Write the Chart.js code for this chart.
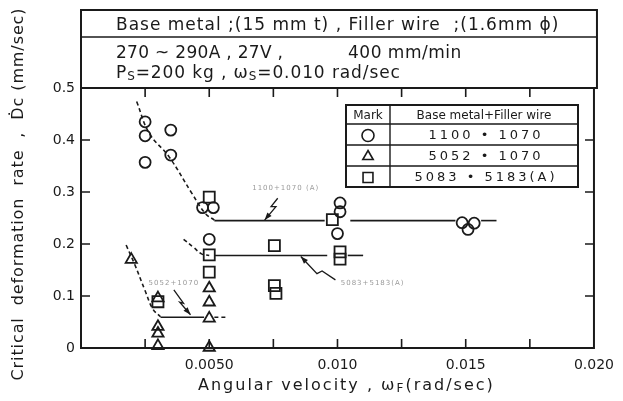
<!DOCTYPE html>
<html>
<head>
<meta charset="utf-8">
<script src="https://cdn.jsdelivr.net/npm/chart.js@4.4.1/dist/chart.umd.min.js"></script>
<style>
  html, body { margin: 0; padding: 0; background: #fff; }
  #chart { display: block; }
</style>
</head>
<body>
<canvas id="chart" width="623" height="401"></canvas>
<script>
const seriesNames = ['1100 \u2022 1070', '5052 \u2022 1070', '5083 \u2022 5183(A)'];
const seriesStyles = ['circle', 'triangle', 'rect'];

const circleX = [0.0025, 0.0025, 0.0025, 0.0035, 0.0035, 0.00474, 0.00516, 0.0050, 0.0101, 0.0101, 0.0100, 0.01486, 0.01509, 0.01533];
const circleY = [0.435, 0.408, 0.357, 0.419, 0.371, 0.270, 0.270, 0.209, 0.279, 0.262, 0.220, 0.241, 0.228, 0.240];

const triangleX = [0.00196, 0.0030, 0.0030, 0.0030, 0.0030, 0.0050, 0.0050, 0.0050, 0.0050];
const triangleY = [0.170, 0.096, 0.041, 0.028, 0.004, 0.115, 0.088, 0.057, 0.001];

const squareX = [0.0050, 0.0050, 0.0050, 0.0030, 0.00754, 0.00754, 0.0076, 0.0098, 0.0101, 0.0101];
const squareY = [0.290, 0.179, 0.146, 0.089, 0.197, 0.120, 0.105, 0.247, 0.185, 0.171];

// hand drawn trend lines
const circleCurveX = [0.00217, 0.00266, 0.00343, 0.00433, 0.00484, 0.0052];
const circleCurveY = [0.474, 0.413, 0.368, 0.297, 0.259, 0.246];
const circleFlatX = [[0.0052, 0.0095], [0.0105, 0.0146], [0.0156, 0.0162]];
const circleFlatY = 0.245;

const squareCurveX = [0.0040, 0.0044, 0.0047, 0.0050];
const squareCurveY = [0.209, 0.193, 0.181, 0.178];
const squareFlatX = [[0.0052, 0.0096], [0.0104, 0.0110]];
const squareFlatY = 0.178;

const triangleCurveX = [0.00176, 0.0021, 0.0025, 0.0028, 0.0031];
const triangleCurveY = [0.198, 0.160, 0.110, 0.075, 0.060];
const triangleFlatX = [0.0031, 0.0048];
const triangleTailX = [0.0052, 0.0057];
const triangleFlatY = 0.059;

// small callouts
const noteTexts = ['1100+1070 (A)', '5083+5183(A)', '5052+1070'];
const noteX = [0.00798, 0.01137, 0.00362];
const noteY = [0.308, 0.125, 0.125];
const arrowX = [[0.00767, 0.00741, 0.00760, 0.00716], [0.00992, 0.0094, 0.0092, 0.00857], [0.00362, 0.0040, 0.00385, 0.00427]];
const arrowY = [[0.288, 0.272, 0.272, 0.246], [0.131, 0.148, 0.143, 0.176], [0.112, 0.086, 0.088, 0.064]];

const xTickValues = [0.005, 0.010, 0.015, 0.020];
const xTickLabels = ['0.0050', '0.010', '0.015', '0.020'];
const yTickValues = [0, 0.1, 0.2, 0.3, 0.4, 0.5];
const yTickLabels = ['0', '0.1', '0.2', '0.3', '0.4', '0.5'];

const headerLine1 = 'Base metal ;(15 mm t) , Filler wire  ;(1.6mm \u03d5)';
const headerLine2a = '270 ~ 290A , 27V ,';
const headerLine2b = '400 mm/min';
const headerLine3 = [['P'], ['S', 1], ['=200 kg , \u03c9'], ['S', 1], ['=0.010 rad/sec']];
const xTitle = [['Angular velocity , \u03c9'], ['F', 1], ['(rad/sec)']];
const yTitle = 'Critical  deformation  rate  ,  \u1e0ac (mm/sec)';
const legendHead = ['Mark', 'Base metal+Filler wire'];

const FONT = '"DejaVu Sans", sans-serif';
const INK = '#1a1a1a';

const pts = (xs, ys) => xs.map((x, i) => ({ x: x, y: ys[i] }));
const flat = (xs, y) => xs.map(x => ({ x: x, y: y }));

function lineSet(data, dashed, tension) {
    return {
        type: 'line', data: data, showLine: true, pointRadius: 0,
        borderColor: INK, borderWidth: 1.6, borderDash: dashed ? [4, 3] : [],
        tension: tension || 0, order: 2, clip: false
    };
}

function markSet(label, data, style, r) {
    return {
        label: label, data: data, pointStyle: style, pointRadius: r,
        borderColor: INK, backgroundColor: 'rgba(0,0,0,0)', borderWidth: 1.8,
        order: 1, clip: false
    };
}

const datasets = [
    markSet(seriesNames[0], pts(circleX, circleY), 'circle', 5.5),
    markSet(seriesNames[1], pts(triangleX, triangleY), 'triangle', 6.5),
    markSet(seriesNames[2], pts(squareX, squareY), 'rect', 7.8),
    lineSet(pts(circleCurveX, circleCurveY), true, 0.4),
    lineSet(pts(squareCurveX, squareCurveY), true, 0.4),
    lineSet(pts(triangleCurveX, triangleCurveY), true, 0.4),
    lineSet(flat(triangleFlatX, triangleFlatY), false),
    lineSet(flat(triangleTailX, triangleFlatY), true)
];
circleFlatX.forEach(seg => datasets.push(lineSet(flat(seg, circleFlatY), false)));
squareFlatX.forEach(seg => datasets.push(lineSet(flat(seg, squareFlatY), false)));
const arrowStart = datasets.length;
arrowX.forEach((xs, i) => {
    const d = lineSet(pts(xs, arrowY[i]), false);
    d.borderWidth = 1.3;
    datasets.push(d);
});

function richText(ctx, parts, x, y, size, gap) {
    ctx.letterSpacing = (gap || 0) + 'px';
    parts.forEach(p => {
        const sub = p[1] === 1;
        ctx.font = (sub ? Math.round(size * 0.72) : size) + 'px ' + FONT;
        ctx.fillText(p[0], x, sub ? y + size * 0.18 : y);
        x += ctx.measureText(p[0]).width;
    });
    ctx.letterSpacing = '0px';
}

function spaced(ctx, text, x, y, gap) {
    ctx.letterSpacing = gap + 'px';
    ctx.fillText(text, x, y);
    ctx.letterSpacing = '0px';
}

const paper = {
    id: 'paper',
    beforeDraw(chart) {
        const ctx = chart.ctx;
        ctx.save();
        ctx.fillStyle = '#fff';
        ctx.fillRect(0, 0, chart.width, chart.height);
        ctx.restore();
    },
    afterDraw(chart) {
        const ctx = chart.ctx;
        const a = chart.chartArea;
        const xs = chart.scales.x, ys = chart.scales.y;
        ctx.save();
        ctx.strokeStyle = INK;
        ctx.fillStyle = INK;

        // frame + inward ticks
        ctx.lineWidth = 2;
        ctx.strokeRect(a.left, a.top, a.right - a.left, a.bottom - a.top);
        ctx.lineWidth = 1.6;
        ctx.beginPath();
        xs.ticks.forEach(t => {
            const px = xs.getPixelForValue(t.value);
            if (px <= a.left + 1 || px >= a.right - 1) return;
            ctx.moveTo(px, a.bottom); ctx.lineTo(px, a.bottom - 9);
            ctx.moveTo(px, a.top); ctx.lineTo(px, a.top + 9);
        });
        ys.ticks.forEach(t => {
            const py = ys.getPixelForValue(t.value);
            if (py <= a.top + 1 || py >= a.bottom - 1) return;
            ctx.moveTo(a.left, py); ctx.lineTo(a.left + 9, py);
            ctx.moveTo(a.right, py); ctx.lineTo(a.right - 9, py);
        });
        ctx.stroke();

        // condition box above the plot
        ctx.lineWidth = 2;
        ctx.strokeRect(a.left, 10, a.right + 3 - a.left, a.top - 10);
        ctx.lineWidth = 1.5;
        ctx.beginPath();
        ctx.moveTo(a.left, 37); ctx.lineTo(a.right + 3, 37);
        ctx.stroke();
        ctx.textBaseline = 'middle';
        ctx.textAlign = 'left';
        ctx.font = '17px ' + FONT;
        spaced(ctx, headerLine1, 116, 26, 1);
        spaced(ctx, headerLine2a, 116, 54, 0.3);
        spaced(ctx, headerLine2b, 348, 54, 0.5);
        richText(ctx, headerLine3, 116, 74, 17, 0.9);

        // legend table
        const L = 346, R = 578, T = 105, B = 187, D = 390;
        const rows = [T, 124, 145, 166, B];
        ctx.fillStyle = '#fff';
        ctx.fillRect(L, T, R - L, B - T);
        ctx.fillStyle = INK;
        ctx.lineWidth = 2;
        ctx.strokeRect(L, T, R - L, B - T);
        ctx.lineWidth = 1.4;
        ctx.beginPath();
        ctx.moveTo(D, T); ctx.lineTo(D, B);
        for (let i = 1; i < 4; i++) { ctx.moveTo(L, rows[i]); ctx.lineTo(R, rows[i]); }
        ctx.stroke();
        ctx.textAlign = 'center';
        ctx.font = '12px ' + FONT;
        ctx.fillText(legendHead[0], (L + D) / 2, (rows[0] + rows[1]) / 2 + 1);
        ctx.fillText(legendHead[1], (D + R) / 2, (rows[0] + rows[1]) / 2 + 1);
        ctx.font = '13px ' + FONT;
        for (let i = 0; i < 3; i++) {
            const cy = (rows[i + 1] + rows[i + 2]) / 2 + 1;
            ctx.lineWidth = 1.6;
            ctx.fillStyle = 'rgba(0,0,0,0)';
            Chart.helpers.drawPoint(ctx, { pointStyle: seriesStyles[i], radius: i === 2 ? 7 : 6, rotation: 0, borderWidth: 1.6 }, (L + D) / 2, cy);
            ctx.fillStyle = INK;
            spaced(ctx, seriesNames[i], (D + R) / 2 + 2, cy, 3);
        }

        // callouts
        ctx.fillStyle = '#9a9a9a';
        ctx.font = '7px ' + FONT;
        noteTexts.forEach((t, i) => {
            spaced(ctx, t, xs.getPixelForValue(noteX[i]), ys.getPixelForValue(noteY[i]), 1);
        });
        ctx.fillStyle = INK;
        for (let i = 0; i < arrowX.length; i++) {
            const els = chart.getDatasetMeta(arrowStart + i).data;
            const p = els[els.length - 1], q = els[els.length - 2];
            const ang = Math.atan2(p.y - q.y, p.x - q.x);
            ctx.beginPath();
            ctx.moveTo(p.x, p.y);
            ctx.lineTo(p.x - 8 * Math.cos(ang - 0.35), p.y - 8 * Math.sin(ang - 0.35));
            ctx.lineTo(p.x - 8 * Math.cos(ang + 0.35), p.y - 8 * Math.sin(ang + 0.35));
            ctx.closePath();
            ctx.fill();
        }

        // axis titles
        ctx.fillStyle = INK;
        ctx.textAlign = 'left';
        richText(ctx, xTitle, 198, 386, 16, 2);
        ctx.translate(19, 194);
        ctx.rotate(-Math.PI / 2);
        ctx.textAlign = 'center';
        ctx.font = '16px ' + FONT;
        spaced(ctx, yTitle, 0, 0, 0.9);
        ctx.restore();
    }
};

const pickLabel = (vals, labels) => value => {
    const i = vals.findIndex(v => Math.abs(v - value) < 1e-9);
    return i >= 0 ? labels[i] : '';
};

new Chart(document.getElementById('chart'), {
    type: 'scatter',
    data: { datasets: datasets },
    options: {
        responsive: false,
        animation: false,
        devicePixelRatio: 1,
        layout: { padding: { top: 88, right: 23, left: 0, bottom: 0 } },
        plugins: { legend: { display: false }, tooltip: { enabled: false } },
        scales: {
            x: {
                type: 'linear', min: 0, max: 0.02,
                grid: { display: false, drawTicks: false },
                border: { display: false },
                ticks: {
                    stepSize: 0.0025, autoSkip: false, maxRotation: 0, padding: 9,
                    color: INK, font: { family: FONT, size: 14 },
                    callback: pickLabel(xTickValues, xTickLabels)
                },
                afterFit: s => { s.height = 53; }
            },
            y: {
                min: 0, max: 0.5,
                grid: { display: false, drawTicks: false },
                border: { display: false },
                ticks: {
                    stepSize: 0.1, padding: 6,
                    color: INK, font: { family: FONT, size: 14 },
                    callback: pickLabel(yTickValues, yTickLabels)
                },
                afterFit: s => { s.width = 81; }
            }
        }
    },
    plugins: [paper]
});
</script>
</body>
</html>
